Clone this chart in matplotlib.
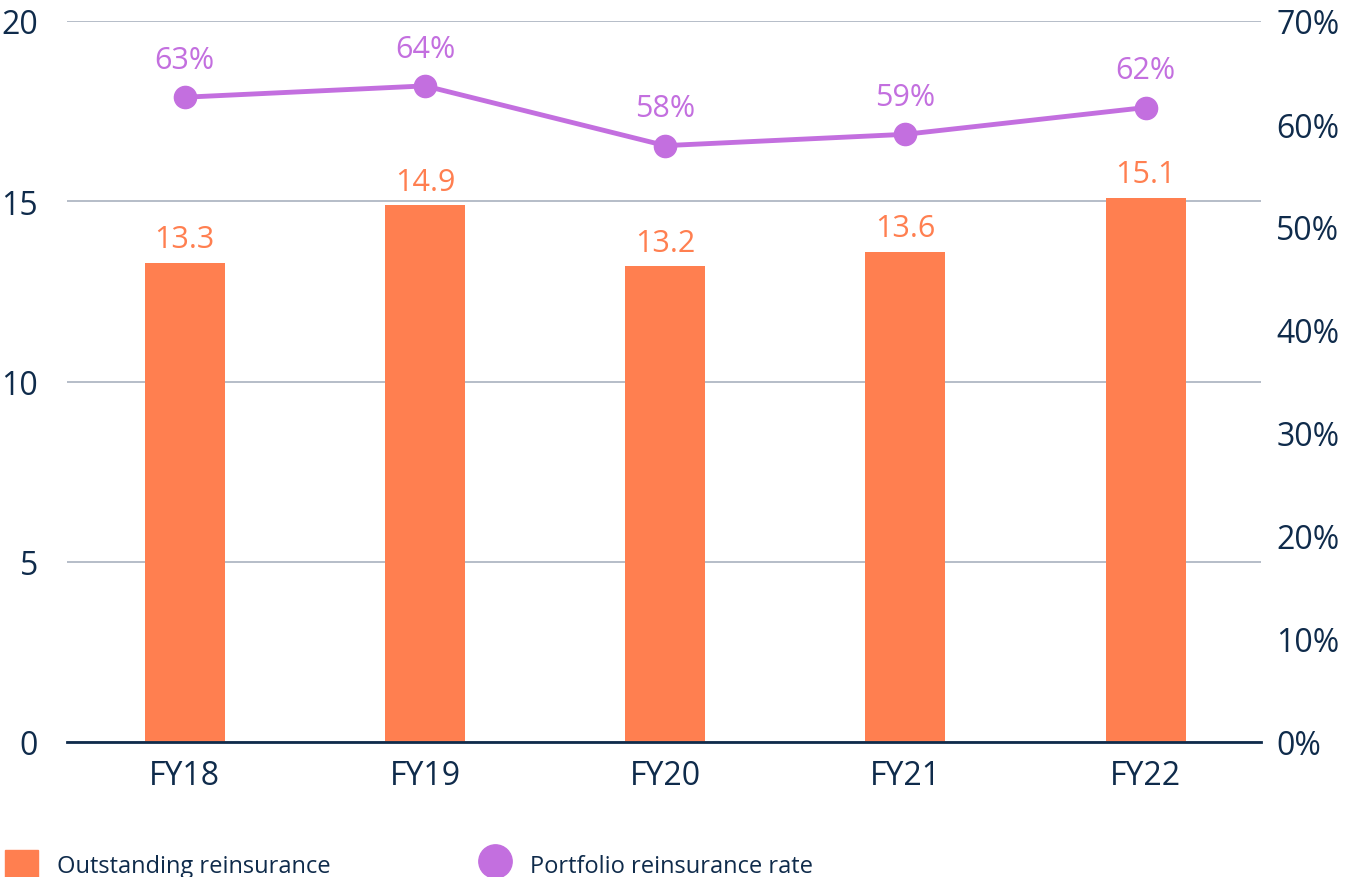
import matplotlib.pyplot as plt
from matplotlib.patches import Patch
from matplotlib.lines import Line2D

plt.rcParams['font.family'] = ['Open Sans', 'DejaVu Sans']

years = ['FY18', 'FY19', 'FY20', 'FY21', 'FY22']
outstanding = [13.3, 14.9, 13.2, 13.6, 15.1]
rate = [62.6, 63.7, 57.9, 59.0, 61.6]

navy = '#0f2b4b'
orange = '#ff7f50'
purple = '#c36fdf'

fig = plt.figure(figsize=(13.45, 8.78), dpi=100)
ax = fig.add_axes([67 / 1345, 135 / 878, (1261 - 67) / 1345, 721 / 878])
x = range(len(years))

ax.bar(x, outstanding, width=0.333, color=orange, zorder=3)
for i, v in enumerate(outstanding):
    ax.annotate(f'{v:.1f}', (i, v), xytext=(0, 6), textcoords='offset points',
                ha='center', va='bottom', color=orange, fontsize=22)

ax.set_ylim(0, 20)
ax.set_yticks([0, 5, 10, 15, 20])
ax.set_xlim(-0.49, 4.48)
ax.set_xticks(list(x))
ax.set_xticklabels(years)
ax.grid(axis='y', color='#b0b8c4', linewidth=1.3, zorder=0)
for s in ['top', 'left', 'right']:
    ax.spines[s].set_visible(False)
ax.spines['bottom'].set_color(navy)
ax.spines['bottom'].set_linewidth(2)
ax.spines['bottom'].set_zorder(4)
ax.tick_params(axis='both', length=0, labelsize=23, labelcolor=navy)
ax.tick_params(axis='y', pad=21)
ax.tick_params(axis='x', pad=12)

ax2 = ax.twinx()
ax2.plot(list(x), rate, color=purple, linewidth=3.5, marker='o', markersize=16, zorder=5)
for i, v in enumerate(rate):
    ax2.annotate(f'{v:.0f}%', (i, v), xytext=(0, 16), textcoords='offset points',
                 ha='center', va='bottom', color=purple, fontsize=22)
ax2.set_ylim(0, 70)
ax2.set_yticks(range(0, 71, 10))
ax2.set_yticklabels([f'{t}%' for t in range(0, 71, 10)])
for s in ax2.spines.values():
    s.set_visible(False)
ax2.tick_params(axis='y', length=0, labelsize=23, labelcolor=navy, pad=11)

handles = [Patch(color=orange), Line2D([], [], marker='o', color=purple, linestyle='none', markersize=24)]
leg = fig.legend(handles, ['Outstanding reinsurance', 'Portfolio reinsurance rate'],
                 loc='lower left', bbox_to_anchor=(-0.012, -0.025), ncol=2, frameon=False,
                 fontsize=17, handlelength=1.4, handleheight=1.4, handletextpad=0.8,
                 columnspacing=6.25, labelcolor=navy)

fig.savefig('out.png', dpi=100)
